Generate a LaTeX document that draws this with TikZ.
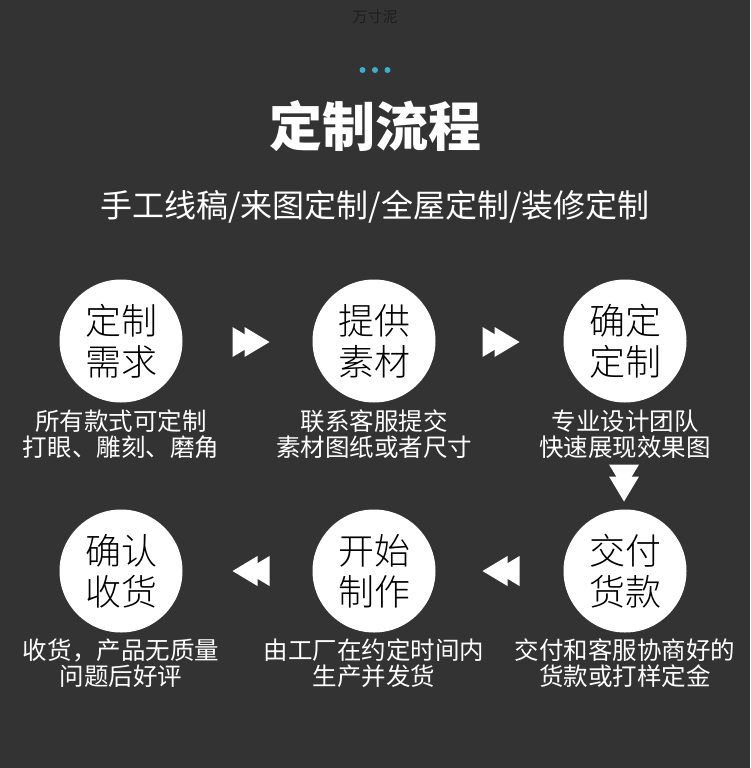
\documentclass[tikz,border=0pt]{standalone}
\usepackage{fontspec}
\setmainfont{Noto Sans CJK SC}
\newfontfamily\cjklight{Noto Sans CJK SC}[UprightFont=* Light]
\definecolor{bg}{HTML}{333333}
\definecolor{dotblue}{HTML}{3AAFC8}
\definecolor{markgray}{HTML}{1E1E1E}
\tikzset{
  disc/.style={circle,fill=white,minimum size=123pt,inner sep=0pt,align=center,
    text=black,font=\cjklight\fontsize{36}{41}\selectfont},
  caption/.style={text=white,align=center,inner sep=0pt,font=\fontsize{24.5}{25.5}\selectfont},
  chevs/.pic={
    \fill[white] (-18.5,-15) -- (6.5,0) -- (-18.5,15) -- cycle;
    \fill[white] (-6.5,-15) -- (18.5,0) -- (-6.5,15) -- cycle;
  }
}
\begin{document}
\begin{tikzpicture}[x=1pt,y=-1pt]
\fill[bg] (0,0) rectangle (750,768);
\useasboundingbox (0,0) rectangle (750,768);

\node[text=markgray,font=\fontsize{15}{15}\selectfont] (mark) at (375,17) {万寸泥};
\foreach \x in {362.5,375,387.5}
  \fill[dotblue] (\x,70) circle (3);
\node[text=white,font=\bfseries\fontsize{53}{53}\selectfont] (title) at (375,126) {定制流程};
\node[text=white,font=\fontsize{32}{32}\selectfont] (sub) at (375,207) {手工线稿/来图定制/全屋定制/装修定制};

% first row
\node[disc] (c1) at (121,341) {定制\\需求};
\node[disc] (c2) at (374,341) {提供\\素材};
\node[disc] (c3) at (625,341) {确定\\定制};
\node[caption] (t1) at (121,434) {所有款式可定制\\打眼、雕刻、磨角};
\node[caption] (t2) at (374,434) {联系客服提交\\素材图纸或者尺寸};
\node[caption] (t3) at (625,434) {专业设计团队\\快速展现效果图};

% second row
\node[disc] (c4) at (121,571) {确认\\收货};
\node[disc] (c5) at (374,571) {开始\\制作};
\node[disc] (c6) at (625,571) {交付\\货款};
\node[caption] (t4) at (121,663) {收货，产品无质量\\问题后好评};
\node[caption] (t5) at (374,663) {由工厂在约定时间内\\生产并发货};
\node[caption] (t6) at (625,663) {交付和客服协商好的\\货款或打样定金};

% arrows
\pic at (251,342) {chevs};
\pic at (501,342) {chevs};
\pic[rotate=-90] at (624,483) {chevs};
\pic[rotate=180] at (501,571) {chevs};
\pic[rotate=180] at (251,571) {chevs};
\end{tikzpicture}
\end{document}
